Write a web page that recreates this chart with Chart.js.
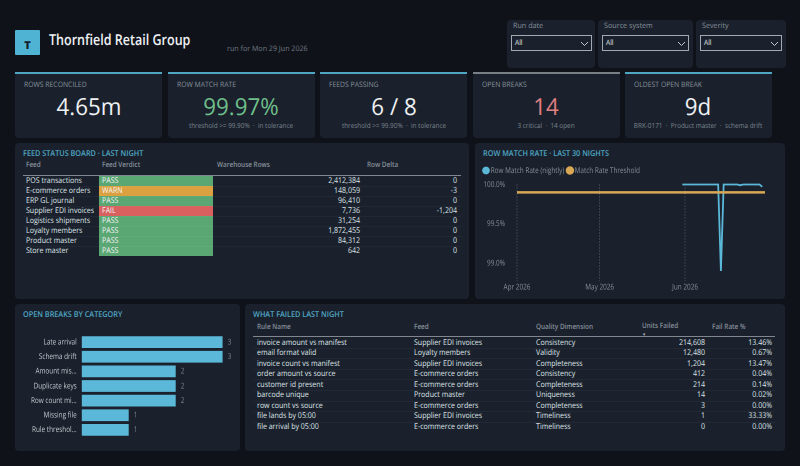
<!DOCTYPE html>
<html>
<head>
<meta charset="utf-8">
<script src="https://cdn.jsdelivr.net/npm/chart.js@4"></script>
<style>
html, body { margin: 0; padding: 0; width: 800px; height: 466px; overflow: hidden; background: #0f1319; }
body { position: relative; font-family: "Open Sans", "Noto Sans", sans-serif; color: #e6eaee; text-rendering: geometricPrecision; --sx: 0.88; }
.box { position: absolute; background: #1a212c; border-radius: 4px; }
.txt { position: absolute; white-space: nowrap; line-height: 1; transform: translateY(-50%) scaleX(var(--sx)); transform-origin: left center; }
.title { font-size: 8px; font-weight: 600; color: #4fa6c4; --sx: 0.91; }
.head { font-size: 7.5px; font-weight: 600; color: #87909b; --sx: 0.85; }
.cell { font-size: 8px; color: #dfe3e8; }
.right { transform: translate(-100%, -50%) scaleX(var(--sx)); transform-origin: right center; }
.center { transform: translate(-50%, -50%) scaleX(var(--sx)); transform-origin: center; }
canvas { position: absolute; }
</style>
</head>
<body>
<canvas id="trendChart" style="left:475px;top:160px;width:310px;height:138px"></canvas>
<canvas id="breaksChart" style="left:15px;top:325px;width:225px;height:122px"></canvas>
<script>
// ------------------- Data -------------------
const filterNames = ['Run date', 'Source system', 'Severity'];

const kpiLabels = ['ROWS RECONCILED', 'ROW MATCH RATE', 'FEEDS PASSING', 'OPEN BREAKS', 'OLDEST OPEN BREAK'];
const kpiValues = ['4.65m', '99.97%', '6 / 8', '14', '9d'];
const kpiNotes = ['', 'threshold >= 99.90%  ·  in tolerance', 'threshold >= 99.90%  ·  in tolerance', '3 critical  ·  14 open', 'BRK-0171  ·  Product master  ·  schema drift'];

const feedNames = ['POS transactions', 'E-commerce orders', 'ERP GL journal', 'Supplier EDI invoices', 'Logistics shipments', 'Loyalty members', 'Product master', 'Store master'];
const feedVerdicts = ['PASS', 'WARN', 'PASS', 'FAIL', 'PASS', 'PASS', 'PASS', 'PASS'];
const feedRows = ['2,412,384', '148,059', '96,410', '7,736', '31,254', '1,872,455', '84,312', '642'];
const feedDeltas = ['0', '-3', '0', '-1,204', '0', '0', '0', '0'];

const nightDates = ['2026-05-31', '2026-06-01', '2026-06-02', '2026-06-03', '2026-06-04', '2026-06-05', '2026-06-06', '2026-06-07', '2026-06-08', '2026-06-09',
    '2026-06-10', '2026-06-11', '2026-06-12', '2026-06-13', '2026-06-14', '2026-06-15', '2026-06-16', '2026-06-17', '2026-06-18', '2026-06-19',
    '2026-06-20', '2026-06-21', '2026-06-22', '2026-06-23', '2026-06-24', '2026-06-25', '2026-06-26', '2026-06-27', '2026-06-28', '2026-06-29'];
const nightRates = [100, 100, 100, 100, 100, 100, 100, 100, 100, 100,
    100, 100, 100, 100, 98.9, 100, 100, 100, 100, 100,
    100, 99.99, 100, 100, 100, 100, 100, 100, 100, 99.97];
const thresholdDates = ['2026-04-01', '2026-06-30'];
const thresholdRates = [99.9, 99.9];
const monthTicks = ['2026-04-01', '2026-05-01', '2026-06-01'];
const monthLabels = ['Apr 2026', 'May 2026', 'Jun 2026'];
const rateTicks = [99, 99.5, 100];

const breakCategories = ['Late arrival', 'Schema drift', 'Amount mis...', 'Duplicate keys', 'Row count mi...', 'Missing file', 'Rule threshol...'];
const breakCounts = [3, 3, 2, 2, 2, 1, 1];

const ruleNames = ['invoice amount vs manifest', 'email format valid', 'invoice count vs manifest', 'order amount vs source', 'customer id present', 'barcode unique', 'row count vs source', 'file lands by 05:00', 'file arrival by 05:00'];
const ruleFeeds = ['Supplier EDI invoices', 'Loyalty members', 'Supplier EDI invoices', 'E-commerce orders', 'E-commerce orders', 'Product master', 'E-commerce orders', 'Supplier EDI invoices', 'E-commerce orders'];
const ruleDimensions = ['Consistency', 'Validity', 'Completeness', 'Consistency', 'Completeness', 'Uniqueness', 'Completeness', 'Timeliness', 'Timeliness'];
const ruleUnits = ['214,608', '12,480', '1,204', '412', '214', '14', '3', '1', '0'];
const ruleRates = ['13.46%', '0.67%', '13.47%', '0.04%', '0.14%', '0.02%', '0.00%', '33.33%', '0.00%'];

// ------------------- DOM helpers -------------------
function addBox(x, y, w, h, color, radius) {
    const el = document.createElement('div');
    el.className = 'box';
    el.style.cssText = `left:${x}px;top:${y}px;width:${w}px;height:${h}px;`;
    if (color) el.style.background = color;
    if (radius !== undefined) el.style.borderRadius = radius + 'px';
    document.body.insertBefore(el, document.getElementById('trendChart'));
    return el;
}

function addText(text, x, y, cls, css) {
    const el = document.createElement('div');
    el.className = 'txt ' + (cls || '');
    el.style.cssText = `left:${x}px;top:${y}px;` + (css || '');
    el.textContent = text;
    document.body.appendChild(el);
    return el;
}

// ------------------- Header -------------------
addBox(15, 30, 25, 25, '#4fb3d4', 1);
addText('T', 27.5, 45, 'center', 'font-size:11px;font-weight:800;color:#14202c;--sx:1;');
addText('Thornfield Retail Group', 49, 40, '', 'font-size:15px;font-weight:600;color:#eef1f4;--sx:0.835;');
addText('run for Mon 29 Jun 2026', 227, 50, '', 'font-size:7.5px;color:#6f7883;--sx:0.95;');

// ------------------- Filters -------------------
const filterBoxes = [[507, 88], [598, 94.5], [696, 90]];
const filterInputs = [[511, 80.5], [602, 87], [700, 82]];
filterNames.forEach((name, i) => {
    addBox(filterBoxes[i][0], 20, filterBoxes[i][1], 48);
    addText(name, filterBoxes[i][0] + 5.5, 26.5, '', 'font-size:7.5px;color:#87909b;--sx:0.96;');
    const input = addBox(filterInputs[i][0], 35, filterInputs[i][1] - 2, 14, '#1a212c', 0);
    input.style.border = '1px solid #a3a9b0';
    addText('All', filterInputs[i][0] + 4, 44, '', 'font-size:7.5px;color:#e6eaee;');
    const chevron = document.createElementNS('http://www.w3.org/2000/svg', 'svg');
    chevron.setAttribute('width', '9');
    chevron.setAttribute('height', '6');
    chevron.style.cssText = `position:absolute;left:${filterInputs[i][0] + filterInputs[i][1] - 12}px;top:41px;`;
    chevron.innerHTML = '<path d="M1 1 L4.5 4.5 L8 1" fill="none" stroke="#c4c9ce" stroke-width="1"/>';
    document.body.appendChild(chevron);
});

// ------------------- KPI cards -------------------
const kpiX = [15, 167.5, 320, 472.7, 624.7];
const kpiColors = ['#eef1f4', '#6fbf8b', '#eef1f4', '#e08080', '#eef1f4'];
kpiLabels.forEach((label, i) => {
    const x = kpiX[i], w = 147.3;
    addBox(x, 73, w, 64.5);
    addBox(x, 72, w, 2, i === 3 ? '#7a7f86' : '#4fa6c4', 0);
    addText(label, x + 9, 86, '', 'font-size:7.5px;color:#87909b;--sx:0.91;');
    addText(kpiValues[i], x + w / 2, 107, 'center', `font-size:23.5px;font-weight:500;color:${kpiColors[i]};--sx:0.95;`);
    if (kpiNotes[i]) addText(kpiNotes[i], x + w / 2, 126, 'center', 'font-size:7px;color:#7b848f;white-space:pre;--sx:0.91;');
});

// ------------------- Feed status board -------------------
addBox(15, 143, 454, 156);
addText('FEED STATUS BOARD · LAST NIGHT', 23, 153.7, 'title');
addText('Feed', 26, 166, 'head');
addText('Feed Verdict', 102, 166, 'head');
addText('Warehouse Rows', 216.5, 166, 'head');
addText('Row Delta', 367, 166, 'head');
addBox(23, 174.5, 438, 1, '#80878f', 0);
const verdictColors = { PASS: '#5aa774', WARN: '#dba03f', FAIL: '#d9605f' };
feedNames.forEach((name, i) => {
    const y = 181 + i * 10;
    addBox(98.5, y - 5, 114.5, 10, verdictColors[feedVerdicts[i]], 0);
    if (i > 0) addBox(23, y - 5, 438, 1, 'rgba(255,255,255,0.035)', 0);
    addText(name, 26, y, 'cell');
    addText(feedVerdicts[i], 102, y, 'cell', 'color:#f2f4f5;');
    addText(feedRows[i], 360, y, 'cell right');
    addText(feedDeltas[i], 457, y, 'cell right');
});

// ------------------- Panels for the charts -------------------
addBox(475, 143, 310, 156);
addText('ROW MATCH RATE · LAST 30 NIGHTS', 483, 154, 'title');
addBox(15, 304, 225, 147);
addText('OPEN BREAKS BY CATEGORY', 23, 315, 'title');

// ------------------- What failed table -------------------
addBox(245, 304, 540, 147);
addText('WHAT FAILED LAST NIGHT', 253, 315, 'title');
addText('Rule Name', 256.7, 327.7, 'head');
addText('Feed', 413.5, 327.7, 'head');
addText('Quality Dimension', 536, 327.7, 'head');
addText('Units Failed', 641.5, 327, 'head');
addText('Fail Rate %', 712, 327.7, 'head');
addText('▾', 643.5, 335, 'center', 'font-size:5px;color:#b8bec4;');
addBox(253, 336, 522, 1, '#80878f', 0);
ruleNames.forEach((name, i) => {
    const y = 342.5 + i * 10.55;
    if (i > 0) addBox(253, y - 5.3, 522, 1, 'rgba(255,255,255,0.04)', 0);
    addText(name, 256.7, y, 'cell');
    addText(ruleFeeds[i], 413.5, y, 'cell');
    addText(ruleDimensions[i], 536, y, 'cell');
    addText(ruleUnits[i], 705, y, 'cell right');
    addText(ruleRates[i], 772, y, 'cell right');
});

// ------------------- Charts -------------------
Chart.defaults.font.family = '"Open Sans", "Noto Sans", sans-serif';
Chart.defaults.animation = false;

function dayNumber(date) {
    return (Date.parse(date) - Date.parse('2026-04-01')) / 86400000;
}

// the reference text is narrower than Open Sans, so canvas text is squeezed like the page text
const squeezeText = {
    id: 'squeezeText',
    beforeInit(chart) {
        const ctx = chart.ctx, sx = 0.8;
        const fill = ctx.fillText, measure = ctx.measureText;
        ctx.fillText = function (text, x, y) {
            this.save();
            this.translate(x, y);
            this.scale(sx, 1);
            fill.call(this, text, 0, 0);
            this.restore();
        };
        ctx.measureText = function (text) {
            return { width: measure.call(this, text).width * sx };
        };
    },
    beforeDraw(chart) { chart.ctx.textRendering = 'geometricPrecision'; }
};

new Chart(document.getElementById('trendChart'), {
    type: 'line',
    plugins: [squeezeText],
    data: {
        datasets: [
            {
                label: 'Row Match Rate (nightly)',
                data: nightDates.map((d, i) => ({ x: dayNumber(d), y: nightRates[i] })),
                borderColor: '#5bb8d8', backgroundColor: '#5bb8d8',
                borderWidth: 1.8, pointRadius: 0, tension: 0, clip: false, order: 2
            },
            {
                label: 'Match Rate Threshold',
                data: thresholdDates.map((d, i) => ({ x: dayNumber(d), y: thresholdRates[i] })),
                borderColor: '#d9a854', backgroundColor: '#d9a854',
                borderWidth: 2.5, pointRadius: 0, clip: false, order: 1
            }
        ]
    },
    options: {
        responsive: false,
        devicePixelRatio: 2,
        layout: { padding: { top: 1.5, left: 5.3, right: 20 } },
        plugins: {
            tooltip: { enabled: false },
            legend: {
                align: 'start',
                labels: {
                    usePointStyle: true, pointStyle: 'circle', boxWidth: 1.4, boxHeight: 4.2, padding: 5,
                    color: '#87909b', font: { size: 8 },
                    sort: (a, b) => a.datasetIndex - b.datasetIndex
                }
            }
        },
        scales: {
            x: {
                type: 'linear', min: 0, max: 90,
                grid: { color: '#5a636e', drawTicks: false },
                border: { display: false, dash: [1, 2] },
                afterBuildTicks: scale => { scale.ticks = monthTicks.map(d => ({ value: dayNumber(d) })); },
                afterFit: scale => { scale.height = 16.3; },
                ticks: {
                    color: '#87909b', font: { size: 8 }, padding: 1, maxRotation: 0, autoSkip: false,
                    callback: value => monthLabels[monthTicks.findIndex(d => dayNumber(d) === value)]
                }
            },
            y: {
                min: 98.77, max: 100,
                grid: { display: false, drawTicks: false },
                border: { display: false },
                afterBuildTicks: scale => { scale.ticks = rateTicks.map(v => ({ value: v })); },
                afterFit: scale => { scale.width = 36.7; },
                ticks: { color: '#87909b', font: { size: 8 }, padding: 12, callback: v => v.toFixed(1) + '%' }
            }
        }
    }
});

// Chart.js has no data labels of its own, so the counts are drawn here
const barValueLabels = {
    id: 'barValueLabels',
    afterDatasetsDraw(chart) {
        const ctx = chart.ctx;
        ctx.save();
        ctx.fillStyle = '#7b848f';
        ctx.font = '8px "Open Sans"';
        ctx.textBaseline = 'middle';
        chart.getDatasetMeta(0).data.forEach((bar, i) => {
            ctx.fillText(breakCounts[i], bar.x + 5, bar.y);
        });
        ctx.restore();
    }
};

new Chart(document.getElementById('breaksChart'), {
    type: 'bar',
    plugins: [squeezeText, barValueLabels],
    data: {
        labels: breakCategories,
        datasets: [{ data: breakCounts, backgroundColor: '#5bb8d8', barPercentage: 0.8, categoryPercentage: 1 }]
    },
    options: {
        responsive: false,
        devicePixelRatio: 2,
        indexAxis: 'y',
        layout: { padding: { top: 7, bottom: 7, right: 17.3 } },
        plugins: { legend: { display: false }, tooltip: { enabled: false } },
        scales: {
            x: { display: false, min: 0, max: 3 },
            y: {
                grid: { display: false, drawTicks: false },
                border: { display: false },
                afterFit: scale => { scale.width = 66.7; },
                ticks: { color: '#c6cbd1', font: { size: 8 }, padding: 5, autoSkip: false }
            }
        }
    }
});
</script>
</body>
</html>
